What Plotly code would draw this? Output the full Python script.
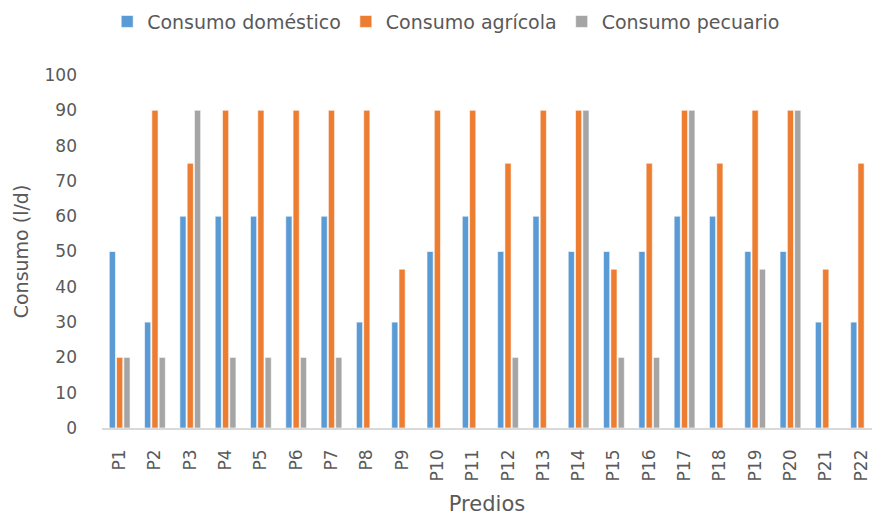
import plotly.graph_objects as go

categories = [f"P{i}" for i in range(1, 23)]
domestico = [50, 30, 60, 60, 60, 60, 60, 30, 30, 50, 60, 50, 60, 50, 50, 50, 60, 60, 50, 50, 30, 30]
agricola = [20, 90, 75, 90, 90, 90, 90, 90, 45, 90, 90, 75, 90, 90, 45, 75, 90, 75, 90, 90, 45, 75]
pecuario = [20, 20, 90, 20, 20, 20, 20, 0, 0, 0, 0, 20, 0, 90, 20, 20, 90, 0, 45, 90, 0, 0]
series_names = ["Consumo doméstico", "Consumo agrícola", "Consumo pecuario"]
colors = ["#5B9BD5", "#ED7D31", "#A5A5A5"]
y_ticks = list(range(0, 101, 10))

FONT = "DejaVu Sans, sans-serif"
TXT = "#595959"

fig = go.Figure()
for name, vals, col in zip(series_names, [domestico, agricola, pecuario], colors):
    fig.add_trace(go.Bar(
        x=categories, y=vals, name=name,
        marker=dict(color=col, line=dict(color="white", width=0.6)),
    ))

fig.update_layout(
    width=872, height=516,
    margin=dict(l=102, r=0, t=75, b=88),
    paper_bgcolor="white", plot_bgcolor="white",
    barmode="group", bargap=0.38, bargroupgap=0.15,
    font=dict(family=FONT, color=TXT, size=17),
    legend=dict(
        orientation="h", x=0.447, xanchor="center", y=0.995, yanchor="top",
        yref="container", font=dict(size=19, color=TXT), itemwidth=30,
        traceorder="normal",
    ),
    xaxis=dict(
        type="category", range=[-0.5, 21.31],
        showline=True, linecolor="#D9D9D9", linewidth=1.5,
        ticks="", tickangle=-90, tickfont=dict(size=17, color=TXT),
        ticklabelstandoff=13,
        title=dict(text="Predios", font=dict(size=21, color=TXT), standoff=16),
        showgrid=False,
    ),
    yaxis=dict(
        range=[0, 100], tickvals=y_ticks, showgrid=False, zeroline=False,
        showline=False, ticks="", tickfont=dict(size=17, color=TXT),
        ticklabelstandoff=24,
        title=dict(text="Consumo (l/d)", font=dict(size=19, color=TXT), standoff=10),
    ),
)

fig.write_html("out.html")
